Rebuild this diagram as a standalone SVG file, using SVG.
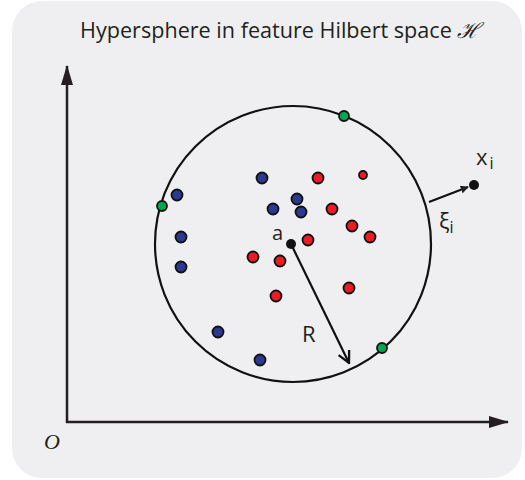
<svg xmlns="http://www.w3.org/2000/svg" width="525" height="480" viewBox="0 0 525 480">
<style>
.t{font-family:"Open Sans","Liberation Sans",sans-serif;fill:#231f20}
.ax{stroke:#231f20;stroke-width:2.5;fill:none}
.ln{stroke:#111;stroke-width:2.2;fill:none}
.b{fill:#2b3990;stroke:#111;stroke-width:1.8}
.r{fill:#ed1c24;stroke:#111;stroke-width:1.8}
.g{fill:#00a651;stroke:#111;stroke-width:1.8}
</style>
<defs>
<marker id="ah" viewBox="0 0 10 10" refX="9" refY="5" markerWidth="8" markerHeight="8" markerUnits="userSpaceOnUse" orient="auto"><path d="M0,0 L10,5 L0,10 Z" fill="#231f20"/></marker>
<marker id="big" viewBox="0 0 20 12" refX="19" refY="6" markerWidth="20" markerHeight="12" markerUnits="userSpaceOnUse" orient="auto"><path d="M0,0 L20,6 L0,12 Z" fill="#231f20"/></marker>
<marker id="open" viewBox="0 0 12 12" refX="11" refY="6" markerWidth="14" markerHeight="14" markerUnits="userSpaceOnUse" orient="auto"><path d="M1,1 L11,6 L1,11" fill="none" stroke="#111" stroke-width="2"/></marker>
</defs>
<rect x="12" y="1" width="510" height="477" rx="30" fill="#efeff1"/>
<text class="t" x="80" y="38" font-size="21.6">Hypersphere in feature Hilbert space <tspan font-family="DejaVu Serif,serif" font-style="italic">ℋ</tspan></text>
<g id="axes">
<line class="ax" x1="67" y1="423" x2="67" y2="66" marker-end="url(#big)"/>
<line class="ax" x1="66" y1="422" x2="508" y2="422" marker-end="url(#big)"/>
<text x="44" y="449" font-size="22" font-style="italic" font-family="Liberation Serif,serif" fill="#231f20">O</text>
</g>
<g id="sphere"><circle cx="293" cy="244" r="138" class="ln"/></g>
<g id="connectors">
<line x1="291" y1="244" x2="349" y2="363" class="ln" marker-end="url(#open)"/>
<line x1="429" y1="202" x2="468" y2="187" class="ln" marker-end="url(#ah)"/>
</g>
<g id="center"><circle cx="291" cy="244" r="5" fill="#111"/><text class="t" x="272" y="240" font-size="20">a</text></g>
<text class="t" x="302" y="342" font-size="22">R</text>
<g id="xi"><circle cx="474" cy="185" r="5" fill="#111"/>
<text class="t" x="476" y="165" font-size="22">x<tspan font-size="16" dx="2" dy="4">i</tspan></text>
<text class="t" x="439" y="229" font-size="22" font-family="DejaVu Sans,sans-serif">ξ<tspan font-size="16" dx="0" dy="4">i</tspan></text>
</g>
<g id="points">
<circle class="g" cx="344" cy="116" r="5"/>
<circle class="g" cx="162" cy="206" r="5"/>
<circle class="g" cx="382" cy="348" r="5"/>
<circle class="b" cx="262" cy="178" r="5.5"/>
<circle class="b" cx="177" cy="195" r="5.5"/>
<circle class="b" cx="297" cy="199" r="5.5"/>
<circle class="b" cx="273" cy="209" r="5.5"/>
<circle class="b" cx="301" cy="212" r="5.5"/>
<circle class="b" cx="181" cy="237" r="5.5"/>
<circle class="b" cx="181" cy="267" r="5.5"/>
<circle class="b" cx="218" cy="332" r="5.5"/>
<circle class="b" cx="260" cy="360" r="5.5"/>
<circle class="r" cx="318" cy="178" r="5.5"/>
<circle class="r" cx="363" cy="175" r="4"/>
<circle class="r" cx="332" cy="209" r="5.5"/>
<circle class="r" cx="352" cy="226" r="5.5"/>
<circle class="r" cx="370" cy="237" r="5.5"/>
<circle class="r" cx="308" cy="240" r="5.5"/>
<circle class="r" cx="253" cy="257" r="5.5"/>
<circle class="r" cx="280" cy="261" r="5.5"/>
<circle class="r" cx="276" cy="296" r="5.5"/>
<circle class="r" cx="349" cy="288" r="5.5"/>
</g>
</svg>
